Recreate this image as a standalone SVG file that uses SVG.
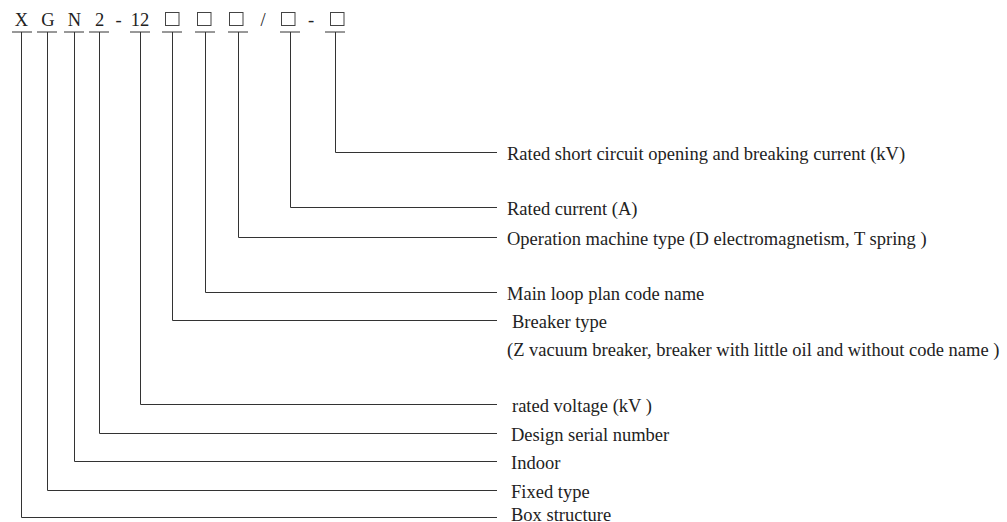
<svg xmlns="http://www.w3.org/2000/svg" width="1007" height="522" viewBox="0 0 1007 522">
<style>
.t{font-family:"Liberation Serif","Times New Roman",serif;font-size:18.5px;fill:#222}
.c{text-anchor:middle}
.bx{fill:none;stroke:#444;stroke-width:1}
.bar{stroke:#333;stroke-width:1;fill:none}
.ln{stroke:#333;stroke-width:1;fill:none}
</style>
<rect width="1007" height="522" fill="#fff"/>
<g id="code">
<g id="c-X"><text class="t c" x="21.5" y="25.8">X</text><line class="bar" x1="12" y1="32" x2="32" y2="32"/></g>
<g id="c-G"><text class="t c" x="48" y="25.8">G</text><line class="bar" x1="37" y1="32" x2="57" y2="32"/></g>
<g id="c-N"><text class="t c" x="74.5" y="25.8">N</text><line class="bar" x1="64" y1="32" x2="84" y2="32"/></g>
<g id="c-2"><text class="t c" x="99.5" y="25.8">2</text><line class="bar" x1="89" y1="32" x2="109" y2="32"/></g>
<text class="t c" x="118.5" y="25.8">-</text>
<g id="c-12"><text class="t c" x="140" y="25.8">12</text><line class="bar" x1="130" y1="32" x2="150" y2="32"/></g>
<g id="c-b1"><rect class="bx" x="165.5" y="12.5" width="13.5" height="13"/><line class="bar" x1="162" y1="32" x2="182" y2="32"/></g>
<g id="c-b2"><rect class="bx" x="197.5" y="12.5" width="13.5" height="13"/><line class="bar" x1="195" y1="32" x2="215" y2="32"/></g>
<g id="c-b3"><rect class="bx" x="229.5" y="12.5" width="13.5" height="13"/><line class="bar" x1="228" y1="32" x2="248" y2="32"/></g>
<text class="t c" x="263" y="25.8">/</text>
<g id="c-b4"><rect class="bx" x="281.5" y="12.5" width="13.5" height="13"/><line class="bar" x1="280" y1="32" x2="300" y2="32"/></g>
<text class="t c" x="311" y="25.8">-</text>
<g id="c-b5"><rect class="bx" x="330.5" y="12.5" width="13.5" height="13"/><line class="bar" x1="325" y1="32" x2="345" y2="32"/></g>
</g>
<g id="connectors">
<polyline class="ln" points="335.5,32 335.5,152.5 497,152.5"/>
<polyline class="ln" points="290.5,32 290.5,207.5 497,207.5"/>
<polyline class="ln" points="238.5,32 238.5,237.5 497,237.5"/>
<polyline class="ln" points="205.5,32 205.5,292.5 497,292.5"/>
<polyline class="ln" points="172.5,32 172.5,320.5 497,320.5"/>
<polyline class="ln" points="140.5,32 140.5,404.5 497,404.5"/>
<polyline class="ln" points="99.5,32 99.5,433.5 497,433.5"/>
<polyline class="ln" points="74.5,32 74.5,461.5 497,461.5"/>
<polyline class="ln" points="47.5,32 47.5,490.5 497,490.5"/>
<polyline class="ln" points="21.5,32 21.5,517.5 497,517.5"/>
</g>
<g id="lbl-short"><text class="t" x="507" y="160">Rated short circuit opening and breaking current (kV)</text></g>
<g id="lbl-current"><text class="t" x="507" y="215">Rated current (A)</text></g>
<g id="lbl-operation"><text class="t" x="507" y="245">Operation machine type (D electromagnetism, T spring )</text></g>
<g id="lbl-mainloop"><text class="t" x="507" y="300">Main loop plan code name</text></g>
<g id="lbl-breaker"><text class="t" x="512" y="327.5">Breaker type</text><text class="t" x="507" y="356">(Z vacuum breaker, breaker with little oil and without code name )</text></g>
<g id="lbl-voltage"><text class="t" x="512" y="411.5">rated voltage (kV )</text></g>
<g id="lbl-serial"><text class="t" x="511" y="440.5">Design serial number</text></g>
<g id="lbl-indoor"><text class="t" x="511" y="468.5">Indoor</text></g>
<g id="lbl-fixed"><text class="t" x="511" y="497.5">Fixed type</text></g>
<g id="lbl-box"><text class="t" x="511" y="521">Box structure</text></g>
</svg>
